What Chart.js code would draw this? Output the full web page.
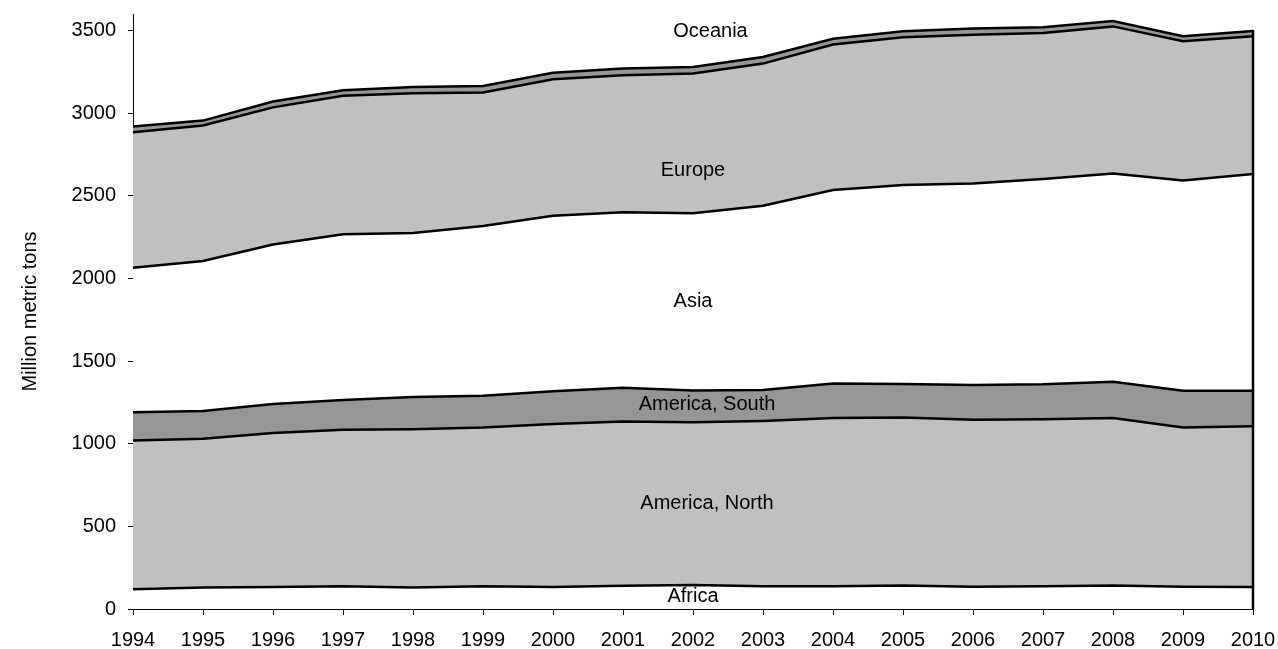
<!DOCTYPE html>
<html>
<head>
<meta charset="utf-8">
<script src="https://cdn.jsdelivr.net/npm/chart.js@4.4.1/dist/chart.umd.min.js"></script>
<style>
  html, body { margin: 0; padding: 0; background: #fff; }
  #wrap { width: 1278px; height: 649px; }
</style>
</head>
<body>
<div id="wrap"><canvas id="grafico"></canvas></div>
<script>
// datos (millones de toneladas)
var anios = ['1994', '1995', '1996', '1997', '1998', '1999', '2000', '2001', '2002',
  '2003', '2004', '2005', '2006', '2007', '2008', '2009', '2010'];
var africa = [120, 130, 133, 138, 130, 138, 133, 140, 145, 138, 138, 142, 135, 138, 142, 135, 133];
var americaNorte = [900, 900, 932, 947, 958, 960, 987, 995, 985, 1000, 1017, 1016, 1010, 1010, 1013, 963, 972];
var americaSur = [170, 168, 175, 180, 194, 192, 198, 203, 192, 187, 210, 204, 210, 212, 220, 222, 215];
var asia = [875, 907, 965, 1003, 993, 1028, 1062, 1062, 1073, 1115, 1170, 1203, 1220, 1242, 1260, 1272, 1312];
var europa = [820, 820, 830, 837, 845, 807, 825, 830, 845, 860, 880, 895, 900, 883, 890, 843, 833];
var oceania = [35, 30, 35, 33, 38, 40, 40, 40, 40, 40, 35, 35, 37, 35, 32, 30, 32];
var nombres = ['Africa', 'America, North', 'America, South', 'Asia', 'Europe', 'Oceania'];
var ticksY = [0, 500, 1000, 1500, 2000, 2500, 3000, 3500];

// donde va cada rotulo: indice de anio (x) y valor (y)
var posRotulos = [[8, 73], [8.2, 636], [8.2, 1236], [8, 1861], [8, 2655], [8.25, 3497]];

var fuente = '"Liberation Sans", Arial, sans-serif';
var series = [africa, americaNorte, americaSur, asia, europa, oceania];
var rellenos = ['#ffffff', '#c0c0c0', '#969696', '#ffffff', '#c0c0c0', '#969696'];

var rotulosAreas = {
  id: 'rotulosAreas',
  afterDatasetsDraw: function (chart) {
    var ctx = chart.ctx;
    var sx = chart.scales.x, sy = chart.scales.y;
    var meta = chart.getDatasetMeta(chart.data.datasets.length - 1);
    var ult = meta.data[meta.data.length - 1];

    ctx.save();
    // borde derecho del area apilada
    ctx.strokeStyle = '#000';
    ctx.lineWidth = 2.5;
    ctx.beginPath();
    ctx.moveTo(ult.x, ult.y - 1);
    ctx.lineTo(ult.x, sy.getPixelForValue(0));
    ctx.stroke();

    ctx.fillStyle = '#000';
    ctx.font = '20px ' + fuente;
    ctx.textAlign = 'center';
    ctx.textBaseline = 'middle';
    for (var i = 0; i < nombres.length; i++) {
      ctx.fillText(nombres[i], sx.getPixelForValue(posRotulos[i][0]), sy.getPixelForValue(posRotulos[i][1]));
    }
    ctx.restore();
  }
};

var ctx = document.getElementById('grafico');

new Chart(ctx, {
  type: 'line',
  plugins: [rotulosAreas],
  data: {
    labels: anios,
    datasets: series.map(function (s, i) {
      return {
        label: nombres[i],
        data: s,
        backgroundColor: rellenos[i],
        borderColor: '#000',
        borderWidth: 2.5,
        pointRadius: 0,
        tension: 0,
        fill: i === 0 ? 'origin' : '-1'
      };
    })
  },
  options: {
    responsive: true,
    maintainAspectRatio: false,
    animation: false,
    layout: { padding: { top: 14, right: 25, left: 0, bottom: 0 } },
    plugins: {
      legend: { display: false },
      tooltip: { enabled: false }
    },
    scales: {
      x: {
        offset: false,
        grid: { drawOnChartArea: false, tickLength: 6, color: '#000' },
        border: { color: '#000', width: 1 },
        ticks: { color: '#000', font: { family: fuente, size: 20 }, maxRotation: 0, autoSkip: false, padding: 13 },
        afterFit: function (scale) {
          scale.height = 40;
          scale.paddingLeft = 0;
          scale.paddingRight = 0;
        }
      },
      y: {
        stacked: true,
        min: 0,
        max: 3600,
        grid: { drawOnChartArea: false, tickLength: 5, color: '#000' },
        border: { color: '#000', width: 1 },
        ticks: {
          stepSize: 500, color: '#000', font: { family: fuente, size: 20 }, padding: 12,
          callback: function (v) { return String(v); }
        },
        afterBuildTicks: function (scale) {
          scale.ticks = ticksY.map(function (v) { return { value: v }; });
        },
        afterFit: function (scale) {
          scale.width = 133;
          scale.paddingTop = 0;
          scale.paddingBottom = 0;
        },
        title: {
          display: true,
          text: 'Million metric tons',
          color: '#000',
          font: { family: fuente, size: 20 },
          padding: { top: 18, bottom: 0 }
        }
      }
    }
  }
});
</script>
</body>
</html>
